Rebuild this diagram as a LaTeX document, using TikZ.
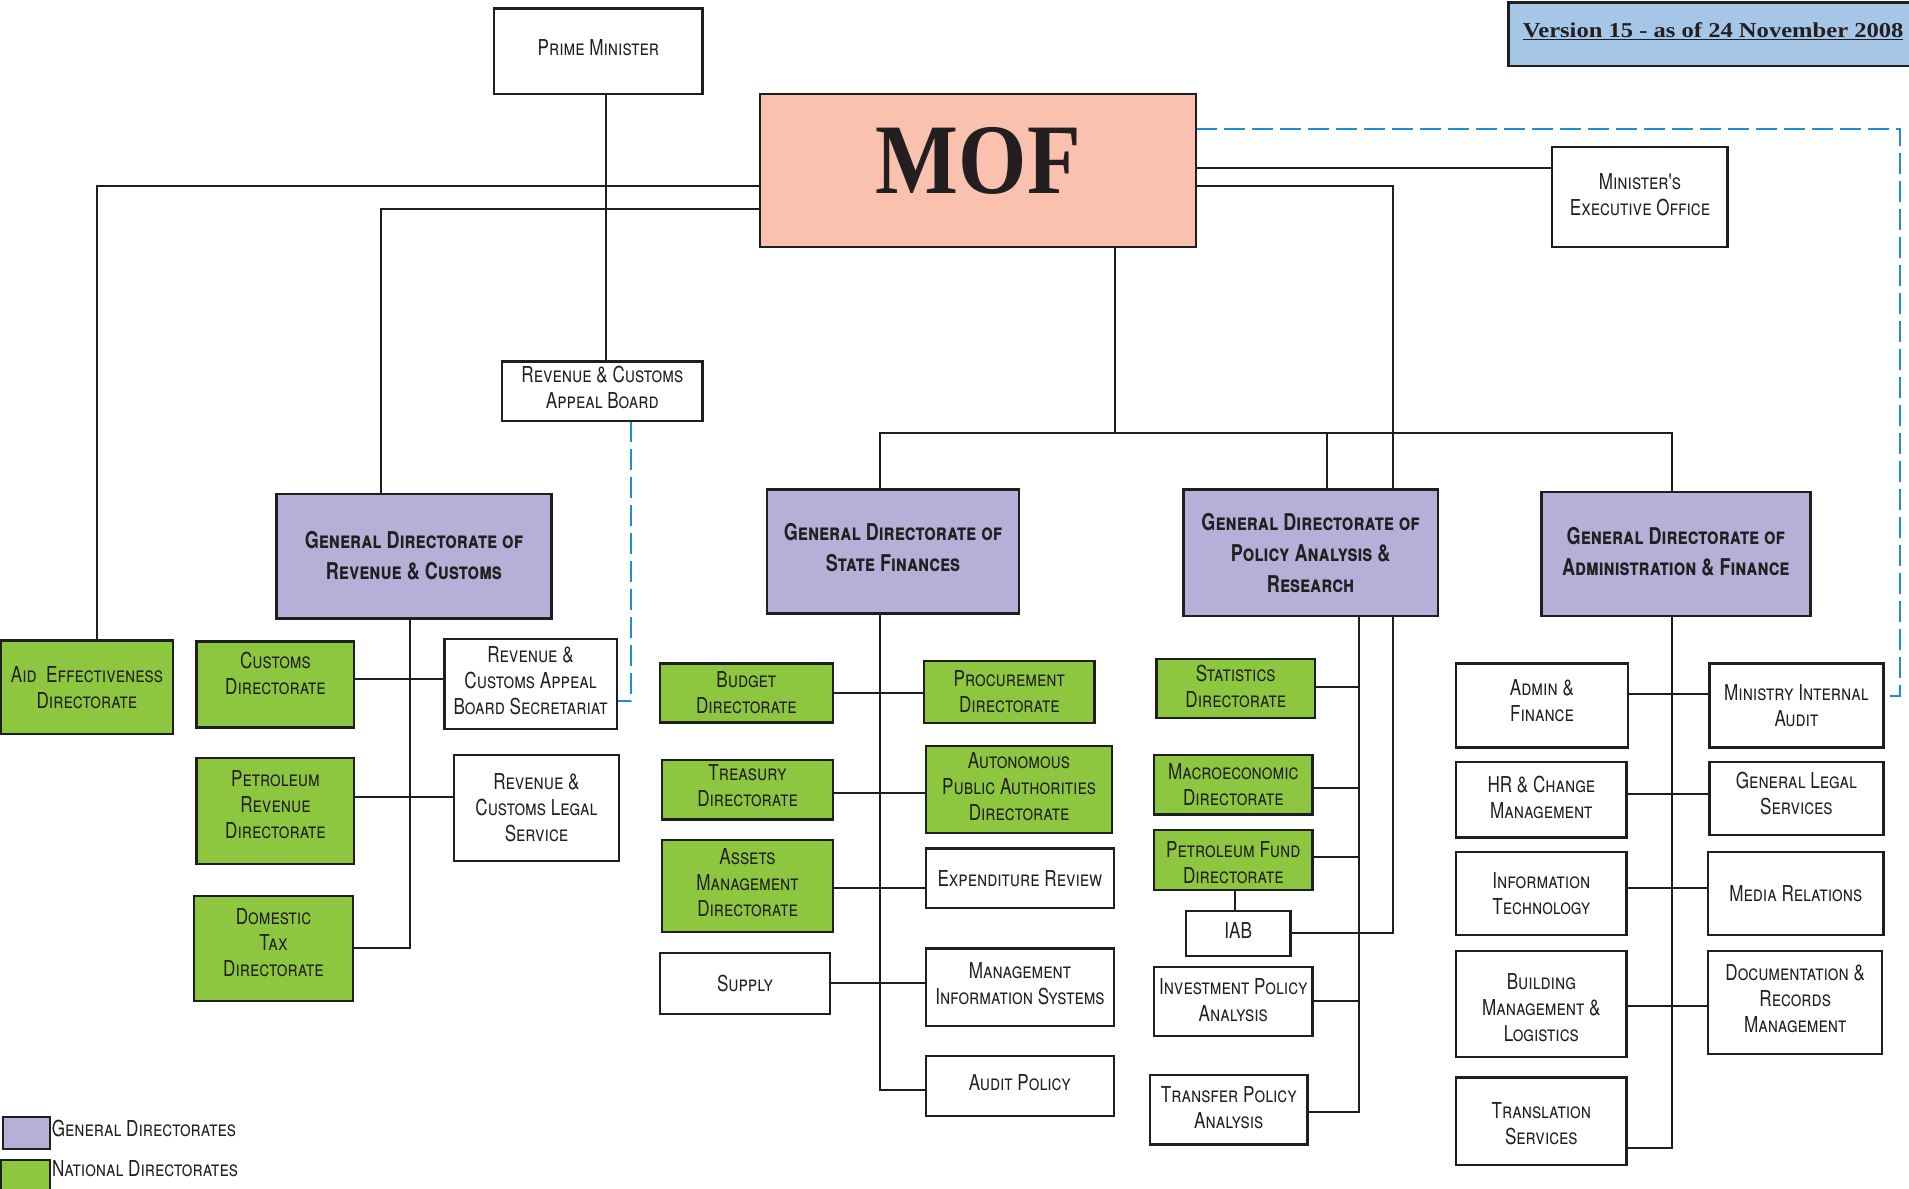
\documentclass[tikz,border=0pt]{standalone}
\usepackage{fontspec}
\usepackage{graphicx}
\usetikzlibrary{fit}
\newfontfamily\scf[Letters=SmallCaps,FakeStretch=0.78]{TeX Gyre Heros}
\newfontfamily\serifb{Liberation Serif}
\definecolor{genpurple}{RGB}{181,176,216}
\definecolor{natgreen}{RGB}{141,198,63}
\definecolor{mofsalmon}{RGB}{250,194,174}
\definecolor{verblue}{RGB}{166,198,232}
\definecolor{dashblue}{RGB}{30,144,210}
\definecolor{txt}{RGB}{35,31,32}
\definecolor{ln}{RGB}{30,30,30}
\pgfdeclarelayer{bg}
\pgfsetlayers{bg,main}
\tikzset{
  bx/.style={draw=ln, line width=1.9pt, inner sep=0pt, outer sep=0pt},
  wbox/.style={bx, fill=white},
  gbox/.style={bx, fill=natgreen},
  pbox/.style={bx, fill=genpurple},
  bt/.style={inner sep=0pt, align=center, text=txt,
    font=\scf\fontsize{18}{21.5}\selectfont},
  gt/.style={inner sep=0pt, align=center, text=txt,
    font=\scf\bfseries\fontsize{19}{25.5}\selectfont},
  conn/.style={line width=1.6pt, draw=ln},
  dconn/.style={line width=1.6pt, draw=dashblue, dash pattern=on 17pt off 6pt},
}
% box with its text: box style, text style, corners, name, text
\newcommand\obox[5]{%
  \node[#1, fit={#3}] (#4) {};
  \node[#2] (#4t) at (#4.center) {#5};}
\begin{document}
\begin{tikzpicture}[x=1pt,y=-1pt]
\useasboundingbox (0,0) rectangle (1568,975.8);
% top
\obox{wbox}{bt,yshift=3pt}{(406,7) (577,77)}{pm}{Prime Minister}
\node[bx, fill=verblue, fit={(1239,2) (1590,54)}] (ver) {};
\node[anchor=base west, inner sep=0pt, text=txt, font=\serifb\bfseries\fontsize{17.4}{20}\selectfont] (vert) at (1250.6,30.6) {\scalebox{1.16}[1]{\underline{Version 15 - as of 24 November 2008}}};
\node[bx, fill=mofsalmon, fit={(624,77) (982.5,203)}] (mof) {};
\node[inner sep=0pt, text=txt, font=\serifb\bfseries\fontsize{82}{82}\selectfont] (moft) at (803.5,132) {\scalebox{0.88}[1]{MOF}};
\obox{wbox}{bt,yshift=2pt}{(1275,121) (1419,203)}{meo}{Minister's\\Executive Office}
\obox{wbox}{bt,yshift=3pt}{(412.5,297) (577,346)}{rcab}{Revenue \& Customs\\Appeal Board}
% general directorates
\obox{pbox}{gt}{(227,405.5) (453,508)}{gdrev}{General Directorate of\\Revenue \& Customs}
\obox{pbox}{gt,yshift=3.5pt}{(630,402) (837,504)}{gdsf}{General Directorate of\\State Finances}
\obox{pbox}{gt}{(972,402) (1181,506)}{gdpol}{General Directorate of\\Policy Analysis \&\\Research}
\obox{pbox}{gt,yshift=1.5pt}{(1266,404) (1487,506)}{gdadm}{General Directorate of\\Administration \& Finance}
% revenue column
\obox{gbox}{bt}{(0.8,526) (142,603)}{aid}{Aid~ Effectiveness\\Directorate}
\obox{gbox}{bt,yshift=9pt}{(161.5,527) (291,597.5)}{customs}{Customs\\Directorate}
\obox{gbox}{bt,yshift=5pt}{(161.5,622.5) (291,709.6)}{petrev}{Petroleum\\Revenue\\Directorate}
\obox{gbox}{bt,yshift=5pt}{(159.5,736) (289.7,822)}{domtax}{Domestic\\Tax\\Directorate}
\obox{wbox}{bt,yshift=3pt}{(365,525) (506.5,599)}{rcabs}{Revenue \&\\Customs Appeal\\Board Secretariat}
\obox{wbox}{bt}{(372.7,620) (508.5,707)}{legal}{Revenue \&\\Customs Legal\\Service}
% state finances column
\obox{gbox}{bt}{(542,545) (684,593.5)}{budget}{Budget\\Directorate}
\obox{gbox}{bt,yshift=3pt}{(544,624) (684,673)}{treas}{Treasury\\Directorate}
\obox{gbox}{bt,yshift=3pt}{(544,690) (684,765.6)}{assets}{Assets\\Management\\Directorate}
\obox{wbox}{bt}{(542,783) (682,833)}{supply}{Supply}
\obox{gbox}{bt}{(759,543) (899,593.6)}{proc}{Procurement\\Directorate}
\obox{gbox}{bt,yshift=2pt}{(760.5,612.7) (913.5,684)}{apa}{Autonomous\\Public Authorities\\Directorate}
\obox{wbox}{bt}{(760.5,697) (915,746)}{er}{Expenditure Review}
\obox{wbox}{bt,yshift=3pt}{(760.5,779) (915,843)}{mis}{Management\\Information Systems}
\obox{wbox}{bt,yshift=3pt}{(760.5,867.6) (915,916.6)}{ap}{Audit Policy}
% policy column
\obox{gbox}{bt,yshift=2pt}{(950,541) (1080,590)}{stats}{Statistics\\Directorate}
\obox{gbox}{bt}{(948,620) (1078,669)}{macro}{Macroeconomic\\Directorate}
\obox{gbox}{bt,yshift=-2pt}{(948,682) (1078,731)}{pf}{Petroleum Fund\\Directorate}
\obox{wbox}{bt,yshift=2pt}{(974,748) (1060,785)}{iab}{IAB}
\obox{wbox}{bt,yshift=1pt}{(948,794) (1078,851)}{ipa}{Investment Policy\\Analysis}
\obox{wbox}{bt,yshift=2pt}{(944.6,883) (1074,940)}{tpa}{Transfer Policy\\Analysis}
% admin column
\obox{wbox}{bt,yshift=4pt}{(1196,545) (1337,614)}{af}{Admin \&\\Finance}
\obox{wbox}{bt}{(1404,545) (1547,614)}{mia}{Ministry Internal\\Audit}
\obox{wbox}{bt,yshift=2pt}{(1196,626) (1336,688)}{hr}{HR \& Change\\Management}
\obox{wbox}{bt,yshift=4pt}{(1404,626) (1547,686)}{gls}{General Legal\\Services}
\obox{wbox}{bt}{(1196,700) (1336,768)}{it}{Information\\Technology}
\obox{wbox}{bt}{(1403,700) (1547,768)}{media}{Media Relations}
\obox{wbox}{bt,yshift=-3pt}{(1196,781) (1336,868)}{bml}{Building\\Management \&\\Logistics}
\obox{wbox}{bt,yshift=3pt}{(1403,781) (1546,866)}{drm}{Documentation \&\\Records\\Management}
\obox{wbox}{bt,yshift=-2pt}{(1196,885) (1336,957)}{ts}{Translation\\Services}
% legend
\node[bx, fill=genpurple, fit={(2.2,917.6) (41,944)}] (leg1) {};
\node[bx, fill=natgreen, fit={(1,953) (41,985)}] (leg2) {};
\node[anchor=west, inner sep=0pt, text=txt, font=\scf\fontsize{18}{20}\selectfont] (leg1t) at (42.4,927) {General Directorates};
\node[anchor=west, inner sep=0pt, text=txt, font=\scf\fontsize{18}{20}\selectfont] (leg2t) at (42.6,960) {National Directorates};
% connectors
\begin{pgfonlayer}{bg}
\coordinate (kPM) at (498,0);
\draw[conn] (pm.south -| kPM) -- (rcab.north -| kPM);
\coordinate (kA) at (80,153);
\draw[conn] (mof.west |- kA) -- (kA) -- (aid.north -| kA);
\coordinate (kR) at (313,172);
\draw[conn] (mof.west |- kR) -- (kR) -- (gdrev.north -| kR);
\coordinate (kM) at (0,138);
\draw[conn] (mof.east |- kM) -- (meo.west |- kM);
\coordinate (kI) at (1144,153);
\draw[conn] (mof.east |- kI) -- (kI) -- (kI |- iab.east) -- (iab.east);
\coordinate (kD) at (916,355.5);
\draw[conn] (mof.south -| kD) -- (kD);
\coordinate (kB1) at (723,355.5);
\coordinate (kB2) at (1090,355.5);
\coordinate (kB3) at (1373,355.5);
\draw[conn] (gdsf.north -| kB1) -- (kB1) -- (kB3) -- (gdadm.north -| kB3);
\draw[conn] (kB2) -- (gdpol.north -| kB2);
\coordinate (kE) at (1560.5,106);
\coordinate (kE2) at (1560.5,572);
\draw[dconn] (mof.east |- kE) -- (kE) -- (kE2) -- (mia.east |- kE2);
\coordinate (kF) at (518,576);
\draw[dconn] (rcab.south -| kF) -- (kF) -- (rcabs.east |- kF);
% revenue spine
\coordinate (sR) at (337,779);
\draw[conn] (gdrev.south -| sR) -- (sR) -- (domtax.east |- sR);
\coordinate (h1) at (0,558);
\draw[conn] (customs.east |- h1) -- (rcabs.west |- h1);
\coordinate (h2) at (0,655);
\draw[conn] (petrev.east |- h2) -- (legal.west |- h2);
% state finances spine
\coordinate (sS) at (723,895);
\draw[conn] (gdsf.south -| sS) -- (sS) -- (ap.west |- sS);
\coordinate (h3) at (0,569);
\draw[conn] (budget.east |- h3) -- (proc.west |- h3);
\coordinate (h4) at (0,651);
\draw[conn] (treas.east |- h4) -- (apa.west |- h4);
\coordinate (h5) at (0,729);
\draw[conn] (assets.east |- h5) -- (er.west |- h5);
\coordinate (h6) at (0,807.5);
\draw[conn] (supply.east |- h6) -- (mis.west |- h6);
% policy spine
\coordinate (sP) at (1116,913);
\draw[conn] (gdpol.south -| sP) -- (sP) -- (tpa.east |- sP);
\coordinate (p1) at (1116,564);
\draw[conn] (stats.east |- p1) -- (p1);
\coordinate (p2) at (1116,647);
\draw[conn] (macro.east |- p2) -- (p2);
\coordinate (p3) at (1116,704);
\draw[conn] (pf.east |- p3) -- (p3);
\coordinate (p4) at (1116,822);
\draw[conn] (ipa.east |- p4) -- (p4);
\coordinate (kq) at (1014,0);
\draw[conn] (pf.south -| kq) -- (iab.north -| kq);
% admin spine
\coordinate (sA) at (1373,943);
\draw[conn] (gdadm.south -| sA) -- (sA) -- (ts.east |- sA);
\coordinate (h7) at (0,570);
\draw[conn] (af.east |- h7) -- (mia.west |- h7);
\coordinate (h8) at (0,652);
\draw[conn] (hr.east |- h8) -- (gls.west |- h8);
\coordinate (h9) at (0,729);
\draw[conn] (it.east |- h9) -- (media.west |- h9);
\coordinate (h10) at (0,826);
\draw[conn] (bml.east |- h10) -- (drm.west |- h10);
\end{pgfonlayer}
\end{tikzpicture}
\end{document}
